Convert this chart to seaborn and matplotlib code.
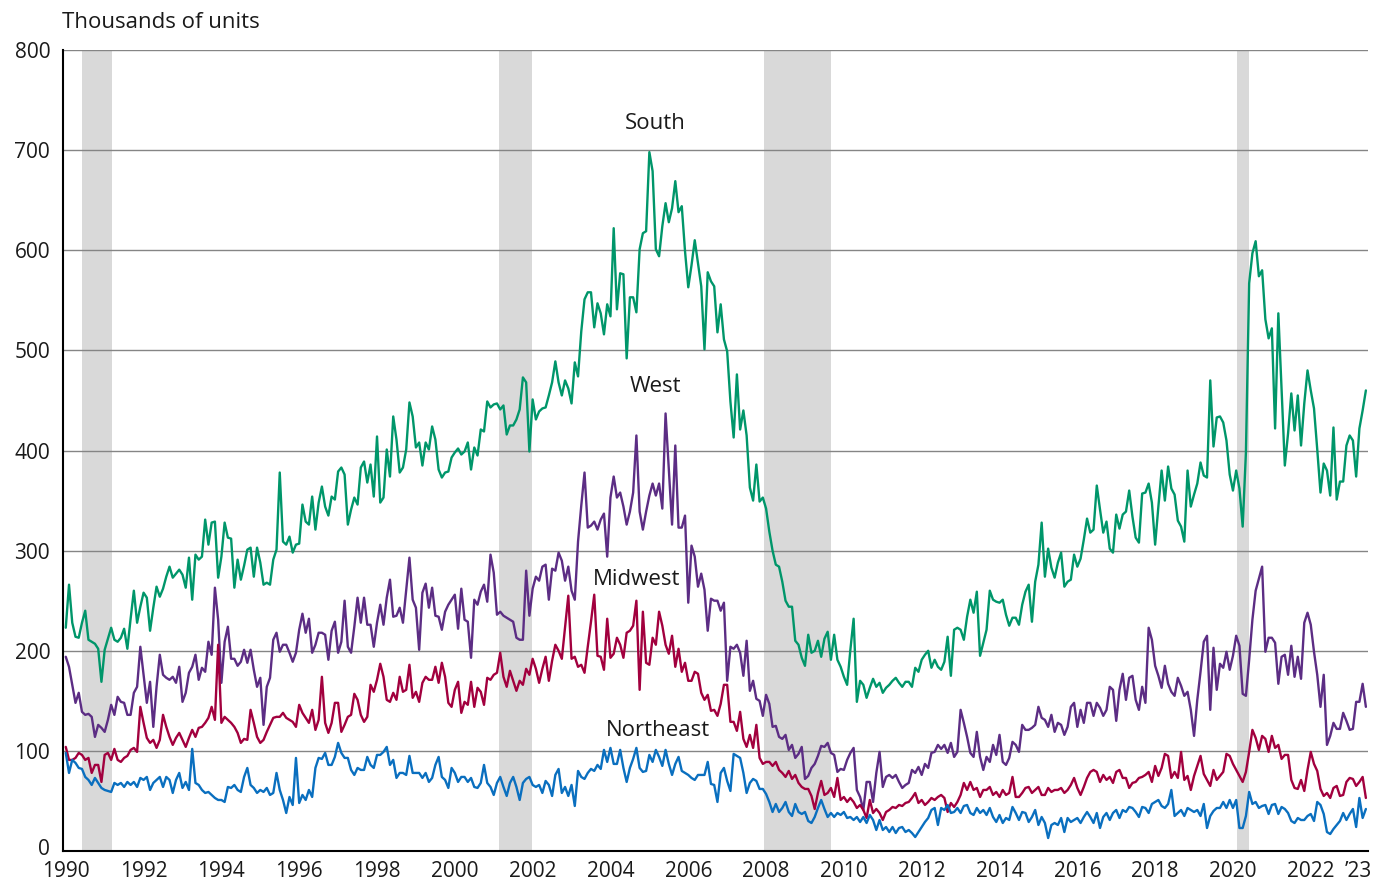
import numpy as np
import pandas as pd
import matplotlib
matplotlib.use("Agg")
import matplotlib.pyplot as plt
import matplotlib.transforms as mtransforms
import seaborn as sns

# Monthly housing starts by region, thousands of units, Jan 1990 onward
# (one row per year)
south = [
    223, 266, 228, 214, 213, 228, 240, 211, 209, 207, 202, 169,
    201, 212, 223, 211, 209, 213, 222, 202, 232, 260, 228, 244,
    258, 253, 220, 243, 264, 254, 262, 274, 284, 273, 277, 281,
    276, 263, 293, 251, 296, 291, 294, 331, 306, 328, 329, 273,
    294, 328, 313, 312, 263, 291, 271, 285, 301, 303, 274, 303,
    288, 266, 268, 266, 291, 301, 378, 309, 306, 314, 298, 306,
    307, 346, 329, 326, 354, 321, 348, 364, 344, 335, 354, 351,
    379, 383, 376, 326, 341, 353, 346, 383, 389, 368, 386, 354,
    414, 348, 353, 401, 374, 434, 411, 378, 383, 401, 448, 434,
    403, 408, 385, 408, 401, 424, 411, 381, 373, 378, 379, 393,
    398, 402, 396, 399, 408, 381, 403, 395, 421, 419, 449, 443,
    446, 447, 441, 445, 416, 425, 425, 431, 441, 473, 468, 399,
    451, 431, 439, 442, 443, 455, 468, 489, 468, 455, 470, 462,
    447, 488, 474, 519, 551, 558, 558, 523, 547, 537, 516, 546,
    534, 622, 541, 577, 576, 492, 553, 553, 538, 601, 617, 619,
    698, 679, 601, 594, 624, 647, 628, 642, 669, 638, 644, 599,
    563, 585, 610, 587, 564, 501, 578, 569, 564, 518, 546, 511,
    499, 449, 413, 476, 421, 440, 415, 363, 350, 386, 349, 353,
    342, 319, 300, 286, 284, 269, 250, 244, 244, 210, 206, 193,
    185, 216, 198, 200, 210, 194, 212, 219, 191, 216, 191, 184,
    174, 166, 201, 232, 149, 170, 166, 153, 163, 172, 164, 168,
    158, 163, 166, 170, 173, 168, 164, 169, 169, 164, 183, 179,
    191, 196, 200, 183, 191, 184, 181, 189, 214, 175, 221, 223,
    221, 211, 234, 251, 238, 259, 195, 208, 221, 260, 251, 249,
    248, 251, 236, 225, 233, 233, 226, 246, 259, 266, 229, 269,
    286, 328, 274, 302, 283, 273, 288, 298, 264, 269, 271, 296,
    284, 292, 311, 332, 318, 321, 365, 341, 318, 329, 302, 298,
    336, 322, 336, 339, 360, 334, 313, 308, 357, 358, 367, 348,
    306, 344, 380, 350, 384, 362, 356, 330, 324, 309, 380, 344,
    356, 367, 388, 375, 373, 470, 404, 433, 434, 428, 410, 376,
    360, 380, 362, 324, 398, 567, 597, 609, 574, 580, 531, 512,
    522, 422, 537, 462, 385, 417, 457, 420, 455, 405, 447, 480,
    460, 442, 401, 358, 387, 380, 355, 423, 351, 369, 369, 405,
    415, 410, 374, 422, 440, 460,
]

west = [
    194, 184, 166, 148, 158, 139, 136, 137, 134, 114, 126, 123,
    119, 131, 146, 136, 154, 149, 148, 136, 136, 158, 164, 204,
    176, 148, 169, 124, 164, 196, 176, 173, 171, 174, 168, 184,
    149, 158, 178, 184, 196, 171, 183, 179, 209, 196, 263, 231,
    168, 209, 224, 192, 192, 185, 189, 201, 188, 201, 181, 164,
    173, 126, 164, 173, 211, 218, 199, 206, 206, 198, 189, 198,
    221, 237, 218, 232, 198, 206, 218, 218, 216, 191, 220, 229,
    198, 209, 250, 204, 198, 224, 253, 228, 253, 226, 226, 204,
    228, 246, 226, 253, 271, 234, 235, 243, 228, 261, 293, 251,
    243, 201, 258, 267, 243, 263, 235, 234, 221, 239, 246, 251,
    256, 222, 262, 231, 229, 193, 251, 246, 259, 266, 249, 296,
    278, 236, 239, 235, 233, 231, 229, 213, 211, 211, 280, 235,
    262, 274, 270, 284, 286, 251, 282, 280, 298, 290, 270, 284,
    260, 251, 309, 345, 378, 323, 325, 329, 321, 331, 337, 294,
    353, 374, 353, 358, 344, 326, 339, 358, 415, 339, 321, 339,
    355, 367, 355, 367, 342, 437, 381, 326, 405, 323, 323, 335,
    248, 305, 294, 264, 277, 261, 220, 252, 250, 250, 240, 248,
    170, 204, 202, 206, 198, 175, 210, 160, 170, 152, 150, 135,
    156, 147, 124, 125, 114, 112, 116, 101, 106, 93, 97, 104,
    72, 75, 83, 87, 95, 105, 104, 108, 98, 96, 79, 82,
    81, 91, 98, 103, 61, 54, 41, 69, 69, 49, 78, 99,
    64, 74, 76, 73, 76, 69, 63, 66, 68, 81, 78, 84,
    76, 87, 83, 98, 99, 106, 102, 106, 98, 108, 94, 99,
    141, 128, 114, 98, 94, 119, 94, 81, 94, 89, 106, 96,
    116, 89, 86, 93, 109, 106, 99, 126, 121, 121, 123, 126,
    144, 133, 131, 124, 136, 119, 128, 126, 116, 124, 144, 148,
    124, 141, 128, 148, 148, 135, 148, 143, 135, 141, 164, 161,
    130, 161, 177, 151, 173, 175, 151, 141, 164, 148, 223, 211,
    185, 175, 163, 185, 167, 159, 155, 173, 165, 155, 159, 141,
    115, 151, 179, 209, 215, 141, 203, 161, 187, 183, 199, 181,
    195, 215, 205, 157, 155, 191, 231, 260, 272, 284, 199, 213,
    213, 208, 167, 194, 196, 176, 205, 174, 194, 172, 228, 238,
    226, 199, 176, 144, 176, 106, 115, 128, 122, 122, 138, 130,
    121, 122, 149, 149, 167, 144,
]

midwest = [
    104, 91, 91, 93, 98, 96, 91, 93, 78, 86, 86, 69,
    96, 98, 91, 102, 91, 89, 93, 95, 101, 103, 99, 144,
    128, 113, 108, 111, 103, 111, 136, 124, 114, 106, 113, 118,
    111, 104, 113, 121, 114, 123, 124, 128, 133, 144, 131, 206,
    128, 134, 131, 128, 124, 118, 108, 112, 111, 141, 128, 114,
    108, 111, 119, 126, 133, 134, 134, 138, 133, 131, 129, 124,
    146, 138, 133, 128, 141, 121, 131, 174, 128, 118, 128, 148,
    148, 119, 126, 134, 136, 157, 151, 136, 129, 134, 166, 159,
    171, 187, 174, 151, 149, 158, 151, 174, 159, 161, 186, 153,
    159, 149, 168, 174, 171, 171, 184, 168, 188, 174, 148, 144,
    161, 169, 138, 149, 146, 169, 144, 163, 159, 146, 173, 171,
    176, 178, 198, 174, 164, 180, 170, 160, 170, 166, 182, 176,
    192, 182, 168, 182, 194, 170, 190, 206, 200, 192, 223, 255,
    192, 194, 184, 186, 178, 204, 229, 256, 195, 194, 181, 232,
    193, 197, 213, 206, 193, 218, 220, 225, 250, 161, 239, 188,
    186, 213, 206, 239, 225, 206, 197, 215, 184, 202, 179, 188,
    170, 170, 179, 177, 158, 151, 156, 140, 141, 135, 147, 166,
    166, 129, 129, 120, 139, 112, 104, 116, 103, 126, 93, 87,
    89, 89, 85, 89, 81, 78, 74, 80, 72, 76, 68, 64,
    62, 62, 55, 42, 58, 70, 56, 58, 63, 54, 73, 51,
    54, 49, 53, 49, 43, 46, 41, 33, 51, 38, 42, 38,
    31, 39, 41, 44, 43, 46, 45, 48, 49, 53, 58, 48,
    51, 46, 49, 53, 51, 54, 56, 53, 39, 48, 44, 49,
    56, 68, 61, 69, 61, 63, 54, 61, 61, 64, 56, 59,
    54, 61, 56, 58, 74, 54, 54, 58, 63, 64, 58, 61,
    64, 56, 56, 63, 59, 61, 61, 63, 58, 61, 66, 73,
    63, 56, 64, 73, 79, 81, 79, 69, 76, 71, 74, 68,
    79, 81, 73, 73, 63, 68, 69, 73, 74, 76, 79, 69,
    85, 75, 83, 97, 95, 73, 79, 73, 99, 71, 75, 61,
    75, 85, 95, 77, 71, 65, 81, 71, 75, 79, 97, 95,
    87, 81, 75, 69, 79, 99, 121, 113, 101, 115, 112, 99,
    115, 103, 106, 92, 96, 96, 71, 63, 62, 71, 60, 81,
    99, 87, 80, 62, 55, 58, 53, 63, 65, 55, 56, 69,
    73, 72, 65, 69, 74, 53,
]

northeast = [
    98, 78, 91, 88, 83, 82, 74, 71, 66, 73, 68, 63,
    61, 60, 59, 68, 66, 68, 64, 69, 66, 69, 64, 73,
    71, 74, 61, 68, 71, 74, 64, 74, 71, 58, 71, 78,
    63, 69, 61, 102, 68, 66, 61, 58, 59, 56, 53, 51,
    51, 49, 64, 63, 66, 61, 59, 74, 83, 66, 63, 58,
    61, 59, 63, 56, 58, 78, 61, 51, 38, 54, 46, 93,
    48, 56, 51, 61, 54, 83, 93, 92, 98, 86, 86, 94,
    108, 98, 93, 93, 81, 76, 83, 81, 81, 94, 86, 83,
    96, 96, 99, 104, 86, 91, 73, 78, 78, 76, 95, 78,
    78, 78, 73, 78, 69, 73, 86, 94, 74, 71, 63, 83,
    78, 69, 74, 74, 69, 73, 64, 63, 68, 86, 68, 64,
    56, 68, 74, 64, 55, 68, 74, 64, 51, 68, 72, 74,
    66, 64, 66, 58, 70, 66, 55, 76, 82, 58, 64, 55,
    66, 45, 80, 74, 72, 78, 82, 80, 86, 82, 101, 89,
    103, 87, 87, 101, 83, 69, 83, 92, 103, 83, 79, 80,
    96, 89, 101, 94, 85, 101, 87, 76, 87, 94, 80, 78,
    76, 73, 71, 76, 76, 76, 89, 67, 66, 49, 78, 83,
    70, 60, 97, 95, 93, 78, 58, 68, 72, 70, 62, 62,
    57, 49, 39, 47, 39, 43, 49, 39, 35, 47, 39, 37,
    39, 30, 28, 34, 43, 51, 42, 34, 38, 34, 38, 36,
    39, 33, 34, 31, 34, 29, 34, 28, 36, 31, 21, 31,
    21, 24, 19, 24, 18, 23, 24, 19, 21, 18, 14, 19,
    24, 29, 33, 41, 43, 26, 43, 41, 46, 38, 39, 43,
    38, 45, 46, 38, 36, 43, 38, 41, 36, 43, 34, 29,
    36, 28, 33, 31, 44, 38, 31, 39, 38, 29, 34, 41,
    26, 34, 28, 13, 26, 28, 26, 33, 19, 33, 29, 31,
    33, 28, 34, 39, 34, 28, 38, 23, 34, 38, 31, 38,
    41, 33, 41, 39, 44, 43, 39, 34, 44, 43, 38, 47,
    49, 51, 45, 43, 47, 61, 35, 38, 41, 35, 43, 41,
    39, 41, 35, 47, 23, 35, 40, 43, 43, 49, 43, 51,
    43, 51, 23, 23, 35, 59, 47, 49, 43, 45, 46, 37,
    46, 47, 37, 44, 42, 38, 30, 28, 33, 31, 31, 35,
    37, 30, 49, 46, 37, 19, 17, 22, 26, 30, 38, 31,
    37, 42, 24, 53, 33, 42,
]

regions = ["South", "West", "Midwest", "Northeast"]
region_colors = ["#00966a", "#5c2d84", "#a2003e", "#0a6fbf"]

# shaded recession periods (decimal years)
recessions = [(1990.42, 1991.18), (2001.14, 2001.98),
              (2007.94, 2009.68), (2020.10, 2020.41)]

# where the region names sit (decimal year, value)
label_x = [2005.14, 2005.17, 2004.66, 2005.22]
label_y = [727, 464, 271, 120]

year_ticks = list(range(1990, 2023, 2)) + [2023]
year_labels = [str(y) for y in range(1990, 2023, 2)] + ["\u201923"]
value_ticks = list(range(0, 801, 100))

# long table for seaborn
frames = []
for name, values in zip(regions, [south, west, midwest, northeast]):
    frames.append(pd.DataFrame({
        "date": 1990 + np.arange(len(values)) / 12,
        "starts": values,
        "region": name,
    }))
starts = pd.concat(frames, ignore_index=True)

sns.set_style("white")
plt.rcParams["font.family"] = ["Open Sans", "DejaVu Sans"]

fig = plt.figure(figsize=(13.74, 8.83), dpi=100)
ax = fig.add_axes([0.0456, 0.0362, 0.9500, 0.9072])

for start, end in recessions:
    ax.axvspan(start, end, color="#d9d9d9", linewidth=0, zorder=0)

sns.lineplot(data=starts, x="date", y="starts", hue="region",
             hue_order=regions, palette=region_colors, estimator=None,
             linewidth=1.7, legend=False, ax=ax, zorder=3)

for name, x, y in zip(regions, label_x, label_y):
    ax.text(x, y, name, ha="center", va="center", fontsize=16,
            color="#1a1a1a", zorder=4)

ax.set_xlim(1989.92, 2023.47)
ax.set_ylim(0, 800)
ax.set_xticks(year_ticks)
ax.set_xticklabels(year_labels)
ax.set_yticks(value_ticks)
ax.set_xlabel("")
ax.set_ylabel("")

ax.set_axisbelow(True)
ax.yaxis.grid(True, color="#858585", linewidth=1.0)
ax.xaxis.grid(False)

for side in ["top", "right"]:
    ax.spines[side].set_visible(False)
for side in ["left", "bottom"]:
    ax.spines[side].set_color("black")
    ax.spines[side].set_linewidth(1.5)

ax.tick_params(axis="y", length=0, pad=9, labelsize=15, colors="#1a1a1a")
ax.tick_params(axis="x", direction="in", length=8, width=1.3, pad=7,
               labelsize=15, colors="#1a1a1a", color="black")

# nudge the short '23 label right so it clears 2022, as in the original
last_label = ax.get_xticklabels()[-1]
last_label.set_transform(last_label.get_transform() +
                         mtransforms.ScaledTranslation(6 / 72, 0,
                                                       fig.dpi_scale_trans))
# lift the bottom "0" a touch so it does not touch the 1990 label
zero_label = ax.get_yticklabels()[0]
zero_label.set_transform(zero_label.get_transform() +
                         mtransforms.ScaledTranslation(0, 3 / 72,
                                                       fig.dpi_scale_trans))

fig.text(62 / 1374, 1 - 22 / 883, "Thousands of units", ha="left",
         va="center", fontsize=16, color="#1a1a1a")

fig.savefig("out.png", dpi=100)
